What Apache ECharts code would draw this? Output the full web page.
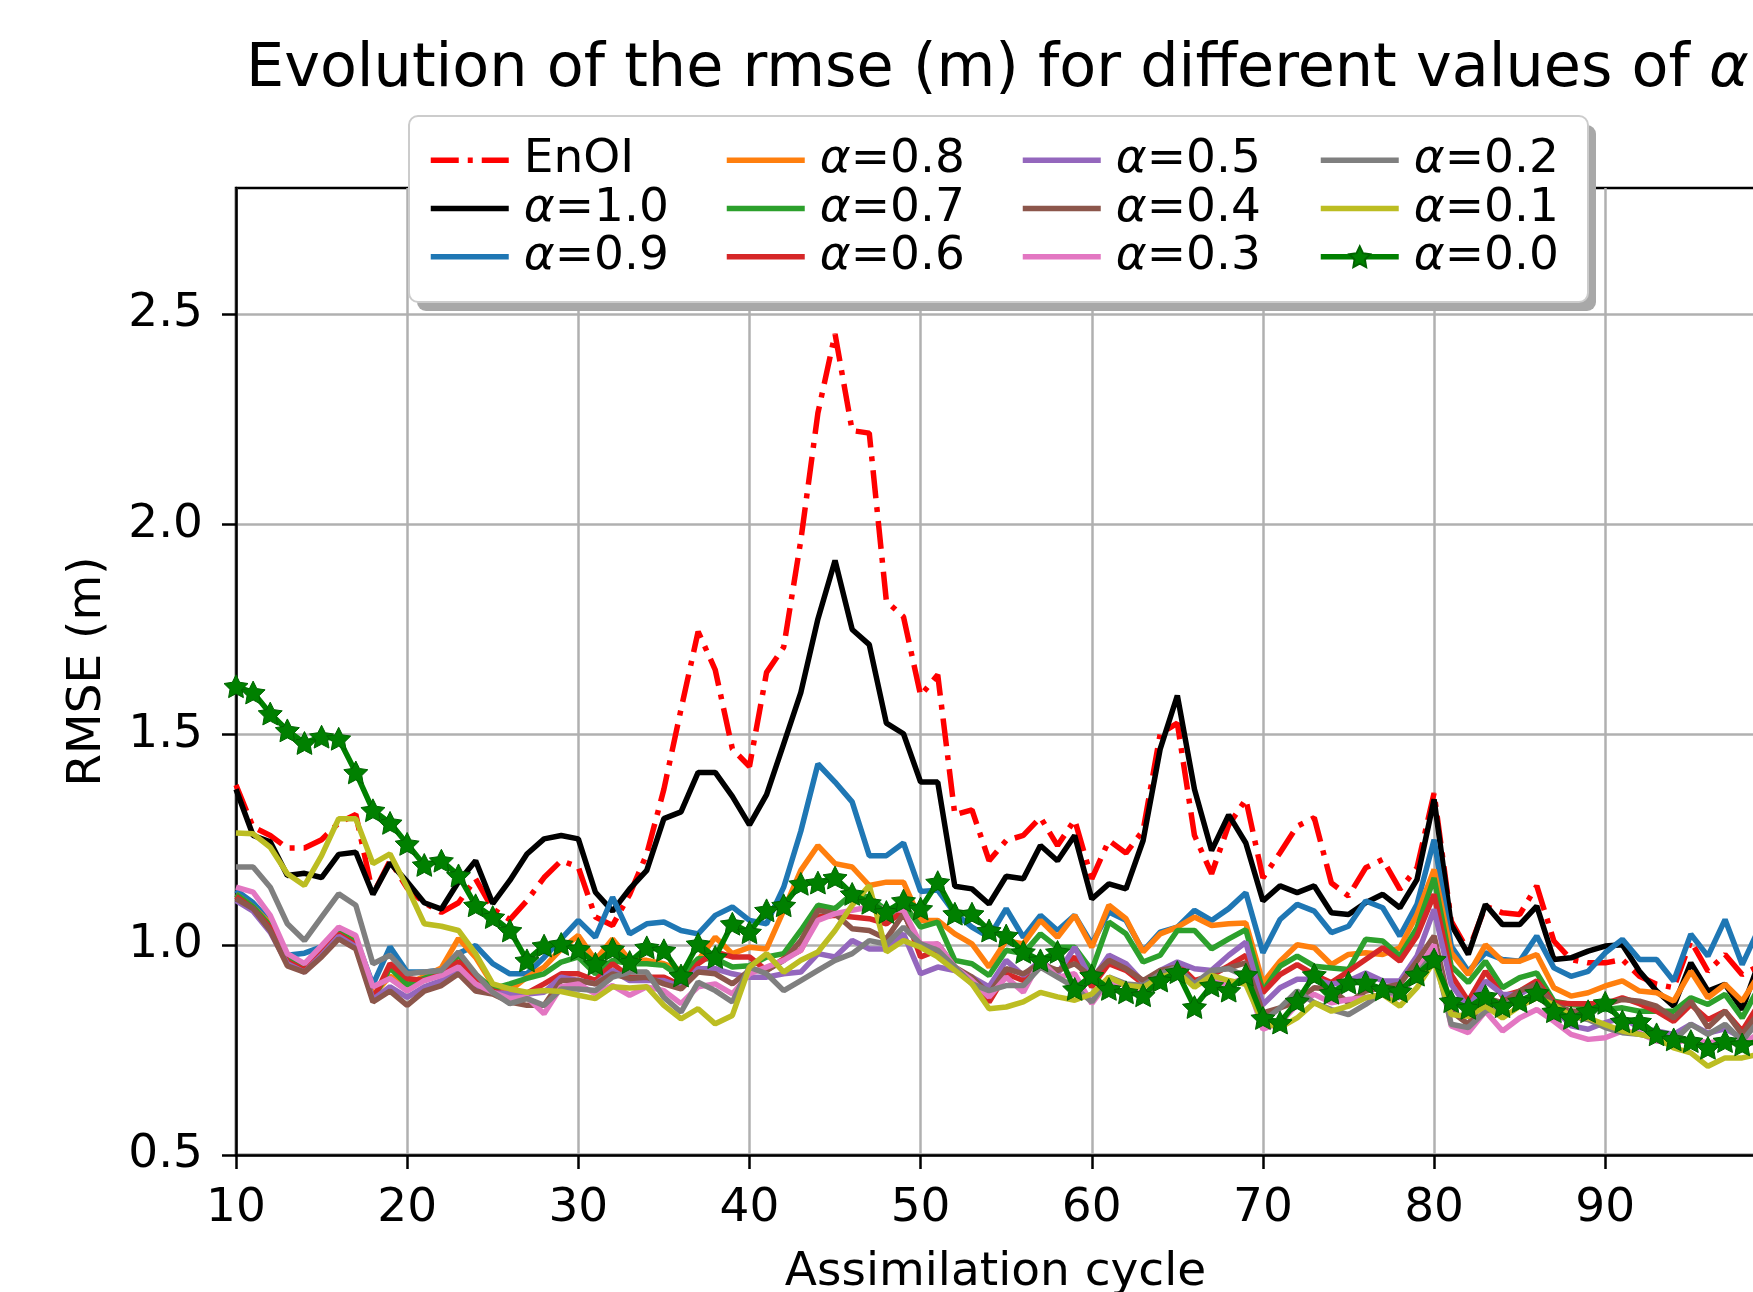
<!DOCTYPE html>
<html>
<head>
<meta charset="utf-8">
<script src="https://cdn.jsdelivr.net/npm/echarts@6/dist/echarts.min.js"></script>
<style>
  html, body { margin: 0; padding: 0; background: #fff; }
  #chart { width: 1753px; height: 1292px; }
</style>
</head>
<body>
<div id="chart"></div>
<script>
// assimilation cycles shown (x axis)
const cycles = [10,11,12,13,14,15,16,17,18,19,20,21,22,23,24,25,26,27,28,29,
  30,31,32,33,34,35,36,37,38,39,40,41,42,43,44,45,46,47,48,49,
  50,51,52,53,54,55,56,57,58,59,60,61,62,63,64,65,66,67,68,69,
  70,71,72,73,74,75,76,77,78,79,80,81,82,83,84,85,86,87,88,89,
  90,91,92,93,94,95,96,97,98,99];

const xTicks = [10, 20, 30, 40, 50, 60, 70, 80, 90];
const yTicks = [0.5, 1.0, 1.5, 2.0, 2.5];

const enoi = [1.38,1.28,1.26,1.23,1.23,1.25,1.29,1.31,1.12,1.20,1.135,1.10,1.077,1.10,1.157,1.085,1.06,1.105,1.16,1.20,
  1.185,1.066,1.046,1.12,1.216,1.37,1.56,1.745,1.654,1.466,1.424,1.648,1.708,1.962,2.265,2.453,2.223,2.217,1.817,1.78,
  1.593,1.642,1.309,1.321,1.20,1.248,1.26,1.303,1.236,1.297,1.157,1.248,1.218,1.272,1.502,1.527,1.26,1.169,1.285,1.346,
  1.159,1.219,1.282,1.302,1.147,1.116,1.183,1.203,1.132,1.183,1.361,1.056,0.985,1.092,1.076,1.072,1.14,1.009,0.965,0.957,
  0.957,0.965,0.925,0.906,0.898,1.009,0.937,0.977,0.929,0.95];

const a10 = [1.37,1.26,1.245,1.165,1.17,1.16,1.215,1.22,1.12,1.195,1.15,1.10,1.085,1.15,1.20,1.098,1.153,1.216,1.252,1.26,
  1.252,1.125,1.08,1.133,1.177,1.30,1.316,1.41,1.41,1.353,1.285,1.357,1.478,1.60,1.775,1.914,1.75,1.714,1.527,1.502,
  1.387,1.387,1.139,1.133,1.097,1.163,1.157,1.236,1.20,1.26,1.109,1.145,1.133,1.248,1.466,1.593,1.37,1.224,1.309,1.242,
  1.104,1.14,1.124,1.14,1.076,1.072,1.10,1.12,1.088,1.155,1.346,1.048,0.977,1.096,1.048,1.048,1.092,0.965,0.969,0.985,
  0.997,1.0,0.937,0.89,0.854,0.957,0.89,0.906,0.846,0.96];

const a09 = [1.13,1.10,1.055,0.975,0.98,0.995,1.035,1.015,0.905,0.995,0.935,0.935,0.94,0.98,0.998,0.955,0.931,0.931,0.97,1.014,
  1.058,1.018,1.113,1.026,1.05,1.054,1.034,1.026,1.07,1.09,1.058,1.05,1.137,1.27,1.43,1.387,1.34,1.212,1.212,1.242,
  1.127,1.13,1.075,1.042,1.018,1.086,1.018,1.07,1.034,1.07,1.002,1.078,1.058,0.985,1.03,1.042,1.082,1.058,1.086,1.124,
  0.981,1.06,1.096,1.08,1.029,1.044,1.104,1.088,1.021,1.096,1.25,0.997,0.937,0.981,0.965,0.961,1.021,0.945,0.925,0.937,
  0.981,1.013,0.965,0.965,0.914,1.025,0.973,1.06,0.953,1.04];

const a08 = [1.12,1.09,1.05,0.965,0.955,0.985,1.03,1.01,0.88,0.925,0.905,0.925,0.945,1.015,0.97,0.905,0.891,0.923,0.947,0.99,
  1.022,0.963,1.014,0.963,0.963,0.955,0.939,0.963,1.018,0.979,0.994,0.99,1.082,1.177,1.236,1.193,1.185,1.141,1.149,1.149,
  1.058,1.058,1.026,1.002,0.947,1.01,1.002,1.058,1.018,1.07,0.994,1.094,1.062,0.983,1.026,1.042,1.066,1.046,1.05,1.052,
  0.91,0.961,1.0,0.993,0.953,0.977,0.981,0.977,0.993,1.072,1.179,0.981,0.929,1.0,0.961,0.961,0.977,0.898,0.878,0.886,
  0.902,0.914,0.89,0.886,0.866,0.937,0.874,0.906,0.866,0.93];

const a07 = [1.12,1.09,1.045,0.965,0.945,0.985,1.03,1.005,0.87,0.945,0.905,0.92,0.935,0.975,0.93,0.895,0.907,0.92,0.931,0.959,
  0.971,0.931,0.963,0.955,0.955,0.951,0.923,0.967,0.967,0.947,0.95,0.971,0.979,1.034,1.094,1.086,1.121,1.113,1.082,1.098,
  1.042,1.054,0.963,0.955,0.927,0.987,0.979,1.026,0.994,0.994,0.939,1.054,1.026,0.959,0.975,1.034,1.034,0.99,1.014,1.036,
  0.89,0.949,0.973,0.949,0.945,0.941,1.013,1.009,0.973,1.04,1.159,0.949,0.91,0.961,0.898,0.922,0.933,0.866,0.858,0.854,
  0.846,0.85,0.842,0.842,0.842,0.874,0.858,0.882,0.826,0.90];

const a06 = [1.115,1.085,1.04,0.96,0.94,0.98,1.025,1.0,0.87,0.955,0.92,0.915,0.93,0.96,0.92,0.89,0.88,0.885,0.907,0.931,
  0.931,0.915,0.955,0.923,0.923,0.923,0.903,0.955,0.983,0.971,0.971,0.939,0.967,0.987,1.066,1.07,1.066,1.062,1.05,1.082,
  0.971,0.987,0.947,0.915,0.864,0.931,0.915,0.959,0.935,0.971,0.90,0.955,0.939,0.907,0.935,0.955,0.915,0.927,0.95,0.975,
  0.886,0.929,0.953,0.929,0.91,0.937,0.965,0.993,0.961,1.021,1.12,0.929,0.866,0.937,0.878,0.89,0.914,0.862,0.86,0.86,
  0.86,0.874,0.86,0.842,0.818,0.858,0.822,0.842,0.795,0.86];

const a05 = [1.105,1.08,1.03,0.955,0.935,0.975,1.02,0.995,0.87,0.90,0.875,0.90,0.915,0.94,0.90,0.885,0.885,0.883,0.887,0.923,
  0.915,0.907,0.939,0.915,0.915,0.915,0.90,0.943,0.943,0.931,0.923,0.923,0.931,0.935,0.979,0.971,1.01,0.99,0.99,1.026,
  0.931,0.947,0.939,0.923,0.90,0.963,0.927,0.963,0.931,0.994,0.915,0.975,0.955,0.911,0.939,0.959,0.943,0.939,0.975,1.006,
  0.858,0.898,0.918,0.918,0.906,0.914,0.933,0.914,0.914,0.973,1.084,0.906,0.85,0.914,0.882,0.882,0.906,0.85,0.807,0.799,
  0.815,0.826,0.803,0.795,0.787,0.811,0.79,0.80,0.779,0.82];

const a04 = [1.11,1.086,1.034,0.95,0.935,0.971,1.014,0.99,0.864,0.89,0.856,0.89,0.903,0.931,0.89,0.883,0.864,0.856,0.856,0.915,
  0.915,0.907,0.931,0.92,0.923,0.907,0.895,0.935,0.931,0.907,0.939,0.939,0.963,1.01,1.082,1.074,1.038,1.034,1.014,1.074,
  0.994,1.002,0.947,0.923,0.883,0.943,0.931,0.955,0.939,0.955,0.923,0.963,0.943,0.915,0.939,0.947,0.907,0.935,0.945,0.957,
  0.838,0.85,0.866,0.898,0.894,0.862,0.89,0.898,0.906,0.961,1.021,0.842,0.811,0.874,0.862,0.89,0.906,0.858,0.842,0.842,
  0.858,0.87,0.866,0.854,0.826,0.866,0.803,0.842,0.787,0.84];

const a03 = [1.137,1.125,1.07,0.979,0.955,0.998,1.042,1.022,0.90,0.92,0.89,0.915,0.927,0.947,0.907,0.887,0.872,0.875,0.836,0.90,
  0.907,0.883,0.903,0.88,0.90,0.891,0.86,0.90,0.907,0.883,0.931,0.947,0.963,0.987,1.058,1.074,1.082,1.09,1.085,1.082,
  1.002,1.002,0.947,0.915,0.876,0.923,0.887,0.963,0.923,0.931,0.86,0.915,0.903,0.88,0.915,0.935,0.907,0.915,0.906,0.922,
  0.799,0.815,0.858,0.882,0.862,0.87,0.874,0.882,0.874,0.937,1.0,0.807,0.791,0.842,0.795,0.826,0.846,0.818,0.787,0.775,
  0.779,0.795,0.79,0.771,0.767,0.775,0.767,0.771,0.763,0.79];

const a02 = [1.185,1.185,1.137,1.05,1.01,1.066,1.121,1.094,0.955,0.975,0.931,0.935,0.939,0.983,0.931,0.887,0.86,0.872,0.856,0.895,
  0.895,0.891,0.923,0.935,0.935,0.875,0.84,0.911,0.891,0.864,0.947,0.931,0.891,0.915,0.939,0.963,0.979,1.01,1.002,1.042,
  1.002,0.987,0.947,0.907,0.891,0.903,0.903,0.947,0.923,0.899,0.864,0.923,0.907,0.903,0.931,0.947,0.907,0.939,0.943,0.925,
  0.818,0.85,0.89,0.862,0.846,0.834,0.858,0.886,0.886,0.929,0.981,0.811,0.803,0.842,0.858,0.866,0.882,0.842,0.83,0.822,
  0.803,0.791,0.787,0.779,0.771,0.811,0.787,0.811,0.771,0.82];

const a01 = [1.266,1.264,1.232,1.169,1.141,1.212,1.30,1.30,1.193,1.216,1.137,1.05,1.044,1.034,0.979,0.907,0.895,0.887,0.891,0.889,
  0.88,0.872,0.90,0.897,0.90,0.856,0.824,0.848,0.812,0.832,0.947,0.979,0.935,0.963,0.983,1.034,1.094,1.141,0.983,1.01,
  0.994,0.971,0.939,0.907,0.848,0.852,0.864,0.887,0.876,0.868,0.883,0.923,0.903,0.899,0.923,0.935,0.899,0.927,0.915,0.906,
  0.815,0.803,0.826,0.862,0.842,0.854,0.874,0.882,0.854,0.898,0.961,0.834,0.83,0.854,0.826,0.854,0.874,0.858,0.83,0.826,
  0.81,0.795,0.787,0.779,0.755,0.743,0.711,0.731,0.731,0.74];

const a00 = [1.615,1.60,1.55,1.51,1.48,1.495,1.49,1.41,1.32,1.29,1.24,1.19,1.20,1.165,1.094,1.066,1.034,0.963,0.998,1.002,
  0.99,0.955,0.99,0.959,0.994,0.987,0.927,1.002,0.971,1.05,1.03,1.082,1.094,1.145,1.148,1.16,1.121,1.10,1.078,1.105,
  1.086,1.149,1.074,1.074,1.034,1.022,0.983,0.963,0.983,0.895,0.927,0.895,0.887,0.88,0.915,0.935,0.852,0.903,0.891,0.929,
  0.826,0.815,0.866,0.929,0.886,0.91,0.91,0.894,0.89,0.929,0.965,0.866,0.85,0.878,0.854,0.866,0.886,0.842,0.826,0.842,
  0.862,0.818,0.818,0.787,0.775,0.771,0.755,0.771,0.763,0.77];

const names = ['EnOI', 'α=1.0', 'α=0.9', 'α=0.8', 'α=0.7', 'α=0.6', 'α=0.5', 'α=0.4', 'α=0.3', 'α=0.2', 'α=0.1', 'α=0.0'];
const values = [enoi, a10, a09, a08, a07, a06, a05, a04, a03, a02, a01, a00];
const colors = ['#ff0000', '#000000', '#1f77b4', '#ff7f0e', '#2ca02c', '#d62728',
  '#9467bd', '#8c564b', '#e377c2', '#7f7f7f', '#bcbd22', '#008000'];

const FONT = 'DejaVu Sans';
const STAR = 'path://M0,-10L2.94,-4.05L9.51,-3.09L4.76,1.55L5.88,8.09L0,5L-5.88,8.09L-4.76,1.55L-9.51,-3.09L-2.94,-4.05Z';
const DASHDOT = [28, 9, 5, 9];

const chart = echarts.init(document.getElementById('chart'), null, { renderer: 'canvas' });

const series = names.map((name, i) => {
  const s = {
    name: name,
    type: 'line',
    data: cycles.map((c, k) => [c, values[i][k]]),
    symbol: 'none',
    color: colors[i],
    lineStyle: { width: 5.5, color: colors[i] },
    clip: true,
    animation: false,
    emphasis: { disabled: true }
  };
  if (name === 'EnOI') {
    s.lineStyle.type = DASHDOT;
  }
  if (name === 'α=0.0') {
    s.symbol = STAR;
    s.symbolSize = 24;
    s.symbolKeepAspect = true;
    s.showAllSymbol = true;
    s.itemStyle = { color: colors[i], borderColor: '#006400', borderWidth: 1 };
  }
  return s;
});

const legendText = {
  fontFamily: FONT,
  fontSize: 47,
  lineHeight: 48.3,
  color: '#000',
  padding: [0, 0, 0, 10],
  rich: { a: { fontFamily: FONT, fontSize: 47, fontStyle: 'italic', color: '#000' } }
};
const legendFmt = n => n.replace('α', '{a|α}');
const colLeft = [428, 724, 1020, 1318];
const legends = [0, 1, 2, 3].map(c => ({
  orient: 'vertical',
  left: colLeft[c],
  top: 136,
  padding: 0,
  itemGap: 0,
  itemWidth: 78,
  itemHeight: 26,
  selectedMode: false,
  z: 12,
  // hide the default round marker, keep the star of α=0.0
  itemStyle: { opacity: 0 },
  lineStyle: { width: 5.5 },
  data: names.slice(c * 3, c * 3 + 3).map(n => (n === 'α=0.0'
    ? { name: n, itemStyle: { opacity: 1 } }
    : { name: n })),
  formatter: legendFmt,
  textStyle: legendText
}));

chart.setOption({
  backgroundColor: '#ffffff',
  animation: false,
  title: {
    text: 'Evolution of the rmse (m) for different values of {a|α}',
    left: 246,
    top: 40,
    padding: 0,
    textStyle: {
      fontFamily: FONT,
      fontSize: 60.4,
      fontWeight: 'normal',
      lineHeight: 61,
      color: '#000',
      rich: { a: { fontFamily: FONT, fontSize: 60.4, fontStyle: 'italic', color: '#000' } }
    }
  },
  legend: legends,
  graphic: [
    { type: 'rect', z: 10, shape: { x: 417, y: 125, width: 1179, height: 186, r: 9 },
      style: { fill: '#a8a8a8' } },
    { type: 'rect', z: 11, shape: { x: 409, y: 116, width: 1179, height: 186, r: 9 },
      style: { fill: '#ffffff', stroke: '#cccccc', lineWidth: 2 } }
  ],
  grid: {
    left: 236, right: -2, top: 188, bottom: 137,
    outerBoundsMode: 'none',
    containLabel: false,
    show: true, borderColor: '#000', borderWidth: 2.5, backgroundColor: 'transparent'
  },
  xAxis: {
    type: 'value',
    min: 10,
    max: 98.75,
    interval: 10,
    name: 'Assimilation cycle',
    nameLocation: 'middle',
    nameGap: 94,
    nameTextStyle: { fontFamily: FONT, fontSize: 47, color: '#000', lineHeight: 47 },
    axisLine: { show: true, lineStyle: { color: '#000', width: 2.5 } },
    axisTick: { show: true, length: 14, lineStyle: { color: '#000', width: 2.5 }, customValues: xTicks },
    axisLabel: {
      fontFamily: FONT, fontSize: 47, color: '#000', margin: 30, customValues: xTicks,
      formatter: v => (v % 10 === 0 ? String(v) : '')
    },
    splitLine: { show: true, lineStyle: { color: '#b0b0b0', width: 2.5 } }
  },
  yAxis: {
    type: 'value',
    min: 0.5,
    max: 2.8,
    interval: 0.5,
    name: 'RMSE (m)',
    nameLocation: 'middle',
    nameGap: 125,
    nameTextStyle: { fontFamily: FONT, fontSize: 47, color: '#000', lineHeight: 47 },
    axisLine: { show: true, lineStyle: { color: '#000', width: 2.5 } },
    axisTick: { show: true, length: 14, lineStyle: { color: '#000', width: 2.5 }, customValues: yTicks },
    axisLabel: {
      fontFamily: FONT, fontSize: 47, color: '#000', margin: 33, customValues: yTicks,
      formatter: v => (Math.abs(v * 2 - Math.round(v * 2)) < 1e-6 ? v.toFixed(1) : '')
    },
    splitLine: { show: true, lineStyle: { color: '#b0b0b0', width: 2.5 } }
  },
  series: series
});
</script>
</body>
</html>
